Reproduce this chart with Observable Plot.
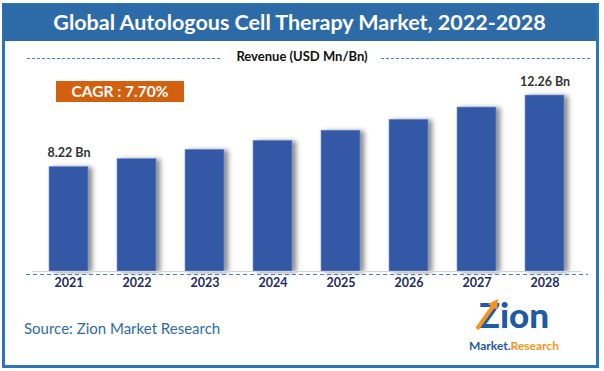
<!DOCTYPE html>
<html>
<head>
<meta charset="utf-8">
<script src="https://cdn.jsdelivr.net/npm/d3@7"></script>
<script src="https://cdn.jsdelivr.net/npm/@observablehq/plot@0.6"></script>
<style>
  html, body { margin: 0; padding: 0; background: #fff; }
  #wrap { position: relative; width: 604px; height: 371px; overflow: hidden; font-family: Lato, "Open Sans", sans-serif; }
  #frame { position: absolute; left: 2px; top: 3px; width: 597px; height: 365px; box-sizing: border-box; border: 3px solid #2e75b6; }
  #titlebar { position: absolute; left: 3px; top: 4px; width: 593px; height: 37px; background: #2d6aa8; color: #fff;
    font-weight: bold; font-size: 21.5px; text-align: center; line-height: 37px; }
  #revenue { position: absolute; left: 0; width: 604px; top: 48px; text-align: center; font-size: 13px; font-weight: bold; color: #111; }
  .dash { position: absolute; top: 58px; height: 0; border-top: 1px dashed #4a7cc9; }
  #cagr { position: absolute; left: 56px; top: 81px; width: 128px; height: 21px; background: #d2600f; color: #fff;
    font-weight: bold; font-size: 15.5px; text-align: center; line-height: 21px; }
  #source { position: absolute; left: 24px; top: 319px; font-size: 15px; color: #2e6da4; }
  #zion { position: absolute; left: 468px; top: 296px; width: 92px; text-align: center; font-size: 35px; font-weight: 900;
    color: #1f5aa6; line-height: 36px; }
  #mr { position: absolute; left: 466px; top: 339px; width: 96px; text-align: center; font-size: 12px; font-weight: bold; line-height: 14px; }
  #arrow { position: absolute; left: 472px; top: 297px; }
  #chart { position: absolute; left: 0; top: 0; }
</style>
</head>
<body>
<div id="wrap">
  <div id="frame"></div>
  <div id="titlebar">Global Autologous Cell Therapy Market, 2022-2028</div>
  <div class="dash" style="left:27px;width:193px;"></div>
  <div class="dash" style="left:381px;width:209px;"></div>
  <div id="revenue">Revenue (USD Mn/Bn)</div>
  <div id="cagr">CAGR : 7.70%</div>
  <div id="source">Source: Zion Market Research</div>
  <div id="zion">Zion</div>
  <svg id="arrow" width="40" height="40">
    <path d="M5 32 L22 8" stroke="#f7941d" stroke-width="4" fill="none"/>
    <path d="M16 7 L26 2 L25 13 Z" fill="#f7941d"/>
  </svg>
  <div id="mr"><span style="color:#1f5aa6">Market.</span><span style="color:#f7941d">Research</span></div>
  <div id="chart"></div>
</div>
<script>
const years = ["2021", "2022", "2023", "2024", "2025", "2026", "2027", "2028"];
const revenue = [8.22, 8.67, 9.19, 9.70, 10.27, 10.89, 11.58, 12.26];
const valueLabels = ["8.22 Bn", "", "", "", "", "", "", "12.26 Bn"];
const yBase = 2.3;

const data = years.map((y, i) => ({ year: y, value: revenue[i], label: valueLabels[i] }));

const chart = Plot.plot({
  width: 604,
  height: 371,
  marginLeft: 32,
  marginRight: 23,
  marginTop: 60,
  marginBottom: 100,
  style: { background: "transparent", fontFamily: "Lato, 'Open Sans', sans-serif", overflow: "visible" },
  x: { domain: years, paddingInner: 0.43, paddingOuter: 0.215, label: null },
  y: { domain: [yBase, 12.26], range: [271, 95], axis: null },
  marks: [
    Plot.barY(data, { x: "year", y1: yBase, y2: "value", fill: "#3358a6", stroke: "#7f9bd6", strokeWidth: 0.6 }),
    Plot.ruleY([yBase], { stroke: "#d4d4d4", strokeWidth: 1.2 }),
    Plot.ruleY([yBase], { dy: 3, stroke: "#4a7cc9", strokeDasharray: "4,3", insetLeft: -6, insetRight: -7 }),
    Plot.text(data.filter(d => d.label), { x: "year", y: "value", text: "label", dy: -14, fontSize: 12.5, fontWeight: "bold", fill: "#333" }),
    Plot.axisX({ tickSize: 0, tickPadding: 7, fontSize: 12.5, fontWeight: "bold", color: "#1f2d5c", label: null })
  ]
});
chart.querySelectorAll('g[aria-label="bar"] rect').forEach(r => {
  r.style.filter = "drop-shadow(4px 1px 2.5px rgba(0,0,0,0.45))";
});
document.getElementById("chart").appendChild(chart);
</script>
</body>
</html>
